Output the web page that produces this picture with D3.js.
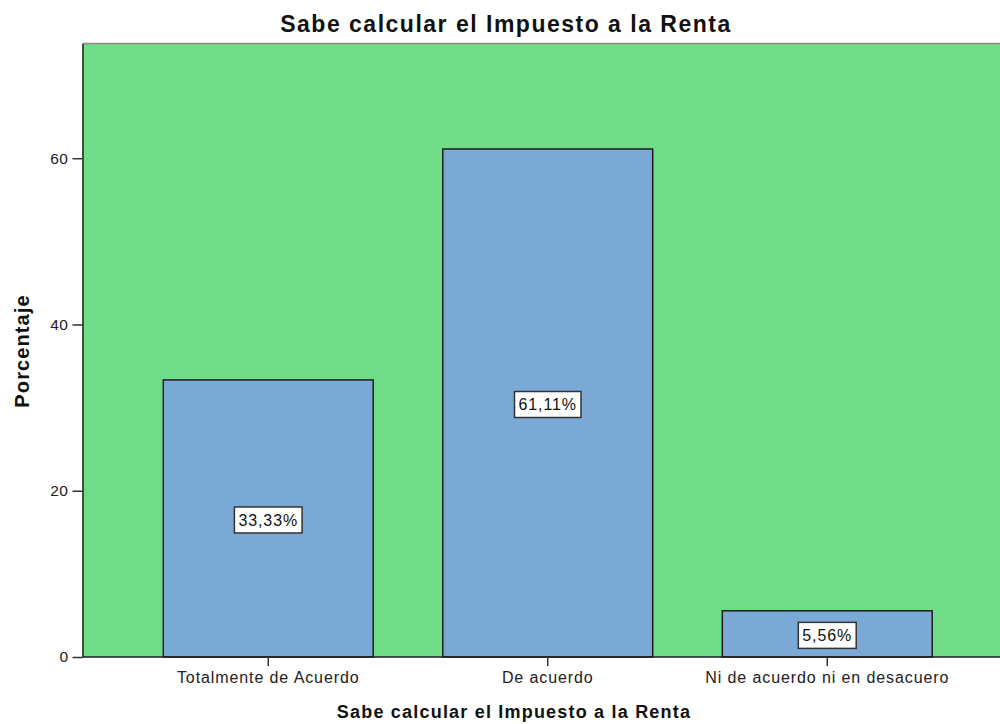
<!DOCTYPE html>
<html>
<head>
<meta charset="utf-8">
<script src="https://cdn.jsdelivr.net/npm/d3@7"></script>
<style>
  body { margin: 0; background: #fff; }
  svg { display: block; font-family: Arial, "Liberation Sans", sans-serif; }
</style>
</head>
<body>
<svg width="1000" height="724"></svg>
<script>
var categories = ["Totalmente de Acuerdo", "De acuerdo", "Ni de acuerdo ni en desacuero"];
var percents = [33.33, 61.11, 5.56];
var pctLabels = ["33,33%", "61,11%", "5,56%"];
var yTicks = [0, 20, 40, 60];
var titleText = "Sabe calcular el Impuesto a la Renta";
var yTitle = "Porcentaje";

var svg = d3.select("svg");
// plot edges (note: "top" is reserved on window, so use other names)
var plotL = 82.5, plotR = 1013, plotT = 43.5, plotB = 657;

var x = d3.scaleBand()
  .domain(categories)
  .range([plotL, plotR])
  .paddingInner(0.249)
  .paddingOuter(0.289);

var y = d3.scaleLinear()
  .domain([0, 73.8])
  .range([plotB, plotT]);

// plot background
svg.append("rect")
  .attr("x", plotL).attr("y", plotT)
  .attr("width", plotR - plotL).attr("height", plotB - plotT)
  .style("fill", "#70dc87");
svg.append("line")
  .attr("x1", plotL).attr("x2", plotR)
  .attr("y1", plotT).attr("y2", plotT)
  .style("stroke", "#8a8a8a").style("stroke-width", 1.5);

// bars
svg.selectAll("rect.bar")
  .data(categories)
  .enter()
  .append("rect")
  .attr("class", "bar")
  .attr("x", function(d){ return x(d); })
  .attr("y", function(d, i){ return y(percents[i]); })
  .attr("width", x.bandwidth())
  .attr("height", function(d, i){ return plotB - y(percents[i]); })
  .style("fill", "#7aa9d5")
  .style("stroke", "#1e1e1e")
  .style("stroke-width", 1.5);

// y axis
var yAxis = svg.append("g")
  .attr("transform", "translate(" + plotL + ",0)")
  .call(d3.axisLeft(y).tickValues(yTicks).tickSize(10).tickSizeOuter(0).tickPadding(4));
yAxis.select(".domain").style("stroke", "#1e1e1e").style("stroke-width", 1.5);
yAxis.selectAll(".tick line").style("stroke", "#333").style("stroke-width", 1.5);
yAxis.selectAll(".tick text")
  .style("font-size", "15.5px")
  .style("letter-spacing", "0.5px")
  .style("font-family", "Arial, 'Liberation Sans', sans-serif")
  .style("fill", "#222");

// x axis
var xAxis = svg.append("g")
  .attr("transform", "translate(0," + plotB + ")")
  .call(d3.axisBottom(x).tickSize(9).tickSizeOuter(0).tickPadding(6));
xAxis.select(".domain").style("stroke", "#1e1e1e").style("stroke-width", 1.5)
  .attr("d", "M" + plotL + ",0H" + plotR);
xAxis.selectAll(".tick line").style("stroke", "#333").style("stroke-width", 1.5);
xAxis.selectAll(".tick text")
  .style("font-size", "16px")
  .style("letter-spacing", "0.9px")
  .style("font-family", "Arial, 'Liberation Sans', sans-serif")
  .style("fill", "#222");

// value labels
var labels = svg.selectAll("g.lbl")
  .data(categories)
  .enter()
  .append("g")
  .attr("class", "lbl")
  .attr("transform", function(d, i){
    var cy = (y(percents[i]) + plotB) / 2 + 1.5;
    return "translate(" + (x(d) + x.bandwidth() / 2) + "," + cy + ")";
  });
var boxes = labels.append("rect");
var texts = labels.append("text")
  .text(function(d, i){ return pctLabels[i]; })
  .attr("text-anchor", "middle")
  .attr("y", 6)
  .style("font-size", "16px")
  .style("letter-spacing", "0.9px")
  .style("fill", "#111");
texts.each(function(d, i){
  var w = this.getComputedTextLength() + 8;
  d3.select(boxes.nodes()[i])
    .attr("x", -w / 2).attr("y", -13)
    .attr("width", w).attr("height", 26)
    .style("fill", "#fff")
    .style("stroke", "#333")
    .style("stroke-width", 1.5);
});

// titles
svg.append("text")
  .text(titleText)
  .attr("x", 506).attr("y", 32)
  .attr("text-anchor", "middle")
  .style("font-size", "23px")
  .style("font-weight", "bold")
  .style("letter-spacing", "1.5px")
  .style("fill", "#111");

svg.append("text")
  .text(titleText)
  .attr("x", 514).attr("y", 718)
  .attr("text-anchor", "middle")
  .style("font-size", "18px")
  .style("font-weight", "bold")
  .style("letter-spacing", "1.2px")
  .style("fill", "#111");

svg.append("text")
  .text(yTitle)
  .attr("transform", "translate(29,351) rotate(-90)")
  .attr("text-anchor", "middle")
  .style("font-size", "20px")
  .style("font-weight", "bold")
  .style("letter-spacing", "1.1px")
  .style("fill", "#111");
</script>
</body>
</html>
